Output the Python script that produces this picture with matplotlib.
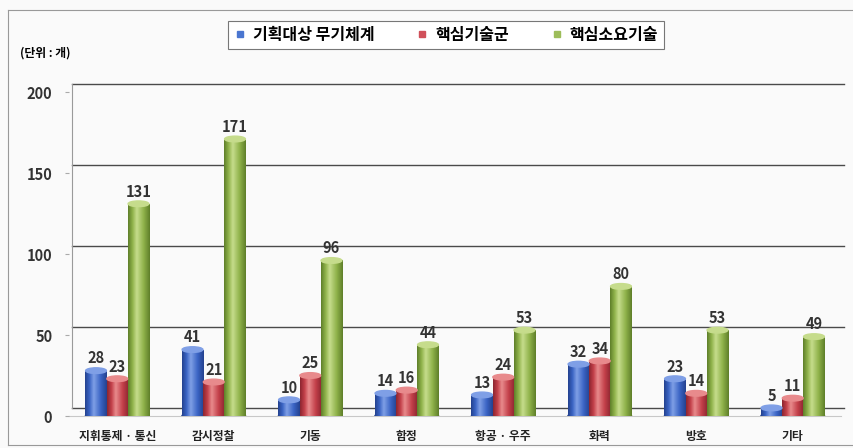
import matplotlib.pyplot as plt
import numpy as np
import matplotlib.transforms as mtransforms
from matplotlib.colors import LinearSegmentedColormap
from matplotlib.patches import Ellipse
from matplotlib.lines import Line2D

plt.rcParams['font.family'] = ['Noto Sans CJK KR', 'DejaVu Sans']

categories = ['지휘통제 · 통신', '감시정찰', '기동', '함정', '항공 · 우주', '화력', '방호', '기타']
series_names = ['기획대상 무기체계', '핵심기술군', '핵심소요기술']
weapon_systems = [28, 41, 10, 14, 13, 32, 23, 5]
tech_groups = [23, 21, 25, 16, 24, 34, 14, 11]
required_tech = [131, 171, 96, 44, 53, 80, 53, 49]
yticks = [0, 50, 100, 150, 200]

# dark edge, body, highlight for each cylinder series
palettes = [
    ('#24428f', '#3a64c4', '#7f9fe6'),
    ('#8c2630', '#c3404a', '#e88a8c'),
    ('#5f7f2a', '#8fb24a', '#c6dc8c'),
]
legend_colors = ['#4a76d0', '#d0505a', '#9dbd5a']

fig = plt.figure(figsize=(8.54, 4.48), dpi=100)
fig.patch.set_facecolor('#fafafa')
W, H = 854, 448
ax = fig.add_axes([69 / W, 32 / H, 772 / W, 324 / H])
ax.set_facecolor('none')
for s in ax.spines.values():
    s.set_visible(False)

# back wall is shifted a little up/right to fake depth
back = ax.transData + mtransforms.ScaledTranslation(3 / 100, 8 / 100, fig.dpi_scale_trans)
for v in yticks:
    ax.plot([-0.5, 7.5], [v, v], color='#4a4a4a', lw=1.0, transform=back,
            zorder=1, clip_on=False)
ax.plot([-0.5, -0.5], [0, 200], color='#9a9a9a', lw=0.8, transform=back,
        zorder=1, clip_on=False)
ax.plot([-0.5, 7.5], [0, 0], color='#c8c8c8', lw=0.8, zorder=1, clip_on=False)

x = np.arange(len(categories))
width = 0.22
grad = np.linspace(0, 1, 64).reshape(1, -1)
cap_h = 3.5
for i, (vals, pal) in enumerate(zip([weapon_systems, tech_groups, required_tech], palettes)):
    dark, mid, light = pal
    cmap = LinearSegmentedColormap.from_list(
        's%d' % i, [(0, dark), (0.2, mid), (0.4, light), (0.72, mid), (1, dark)])
    bars = ax.bar(x + (i - 1) * width, vals, width, color=mid, zorder=3)
    for rect, v in zip(bars, vals):
        x0 = rect.get_x()
        cx = x0 + rect.get_width() / 2
        ax.add_patch(Ellipse((cx, 0), width, cap_h, color=dark, zorder=2.9))
        im = ax.imshow(grad, cmap=cmap, extent=(x0, x0 + width, 0, v),
                       aspect='auto', zorder=3.1)
        im.set_clip_path(rect)
        ax.add_patch(Ellipse((cx, v), width * 0.98, cap_h, color=light, zorder=3.2))
        ax.annotate(str(v), (cx, v), xytext=(0, 3), textcoords='offset points',
                    ha='center', va='bottom', fontsize=10.5, fontweight='bold',
                    color='#333333', zorder=4)

ax.set_xlim(-0.5, 7.5)
ax.set_ylim(0, 200)
ax.set_yticks(yticks)
ax.set_yticklabels([str(t) for t in yticks], fontsize=10.5, fontweight='bold', color='#333333')
ax.tick_params(axis='y', length=3, pad=9, color='#aaaaaa')
ax.set_xticks(x)
ax.set_xticklabels(categories, fontsize=8.5, fontweight='bold', color='#222222')
ax.tick_params(axis='x', length=0, pad=10)

handles = [Line2D([], [], marker='s', ls='none', color=c, markersize=5) for c in legend_colors]
leg = fig.legend(handles, series_names, loc='center', bbox_to_anchor=(446 / W, 1 - 35 / H),
                 ncol=3, fancybox=False, edgecolor='#777777', framealpha=1,
                 prop={'size': 11.5, 'weight': 'bold'}, handlelength=0.8,
                 handletextpad=0.4, columnspacing=2.6, borderpad=0.35, borderaxespad=0)
leg.get_frame().set_linewidth(0.8)

fig.text(20 / W, 1 - 53 / H, '(단위 : 개)', fontsize=8.5, fontweight='bold', va='center')

# outer chart frame
fig.add_artist(Line2D([8 / W, 8 / W], [1 - 10 / H, 1 - 445 / H], color='#999999', lw=0.8))
fig.add_artist(Line2D([8 / W, 1], [1 - 10 / H, 1 - 10 / H], color='#999999', lw=0.8))
fig.add_artist(Line2D([8 / W, 1], [1 - 445 / H, 1 - 445 / H], color='#999999', lw=0.8))

fig.savefig('out.png', dpi=100)
